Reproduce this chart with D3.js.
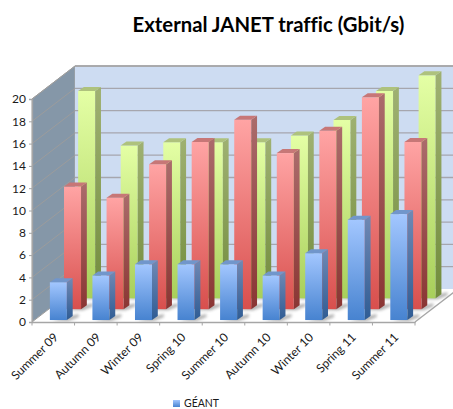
<!DOCTYPE html>
<html>
<head>
<meta charset="utf-8">
<title>External JANET traffic</title>
<script src="https://cdn.jsdelivr.net/npm/d3@7"></script>
<style>
html,body{margin:0;padding:0;background:#fff;overflow:hidden;}
svg{display:block;font-family:Lato,"Open Sans",sans-serif;font-variant-ligatures:none;}
</style>
</head>
<body>
<svg id="chart" width="453" height="409"></svg>
<script>
var categories = ["Summer 09","Autumn 09","Winter 09","Spring 10","Summer 10","Autumn 10","Winter 10","Spring 11","Summer 11"];
var seriesNames = ["GÉANT","Series 2","Series 3"];
var geantValues = [3.4,4,5,5,5,4,6,9,9.5];
var redValues = [11,10,13,15,17,14,16,19,15];
var greenValues = [18.6,13.7,14,14,14,14.6,16,18.6,20];
var yTicks = [0,2,4,6,8,10,12,14,16,18,20];
var legendNames = ["GÉANT"];

var seriesValues = [geantValues,redValues,greenValues];
var seriesColors = [
	{id:"blue",top:"#a3c7ff",bottom:"#4783d0",sideTop:"#7089b4",sideBottom:"#2f5c94",cap:"#7196cb"},
	{id:"red",top:"#ffa4a4",bottom:"#d84f4d",sideTop:"#ab6c6c",sideBottom:"#8a3533",cap:"#c77777"},
	{id:"green",top:"#e4ffa5",bottom:"#a8cf5b",sideTop:"#9fb172",sideBottom:"#728c3c",cap:"#aec27d"}
];

var frontLeft = 32, frontRight = 415, baseY = 322, topY = 99;
var wallDx = 43, wallDy = -33;

var svg = d3.select("#chart");
var x = d3.scaleBand().domain(categories).range([frontLeft,frontRight]).paddingInner(0.6).paddingOuter(0.3).align(0.6);
var y = d3.scaleLinear().domain([0,20]).range([baseY,topY]);
var depth = d3.scaleBand().domain(seriesNames).range([0,1]).paddingInner(0.56).paddingOuter(0.3).align(0.3);

function pts(list)
{
	return list.map(function(p){return p[0]+","+p[1];}).join(" ");
}

function addGradient(defs,id,c1,c2)
{
	var g = defs.append("linearGradient").attr("id",id).attr("x1",0).attr("y1",0).attr("x2",0).attr("y2",1);
	g.append("stop").attr("offset","0%").attr("stop-color",c1);
	g.append("stop").attr("offset","100%").attr("stop-color",c2);
}

var defs = svg.append("defs");
seriesColors.forEach(function(c)
{
	addGradient(defs,c.id+"Front",c.top,c.bottom);
	addGradient(defs,c.id+"Side",c.sideTop,c.sideBottom);
});
defs.append("filter").attr("id","soft").attr("x","-40%").attr("y","-40%").attr("width","180%").attr("height","180%")
	.append("feGaussianBlur").attr("stdDeviation",1.6);

// title
svg.append("text").attr("x",268.5).attr("y",32).attr("text-anchor","middle")
	.attr("font-size",20.3).attr("font-weight",700).attr("fill","#000").text("External JANET traffic (Gbit/s)");

// walls and floor
svg.append("polygon").attr("points",pts([[frontLeft,topY],[frontLeft+wallDx,topY+wallDy],[frontLeft+wallDx,baseY+wallDy],[frontLeft,baseY]]))
	.attr("fill","#8597a8").attr("stroke","#a6a6a6").attr("stroke-width",1);
svg.append("polygon").attr("points",pts([[frontLeft+wallDx,topY+wallDy],[frontRight+wallDx,topY+wallDy],[frontRight+wallDx,baseY+wallDy],[frontLeft+wallDx,baseY+wallDy]]))
	.attr("fill","#cddcf2");
svg.append("polygon").attr("points",pts([[frontLeft,baseY],[frontRight,baseY],[frontRight+wallDx,baseY+wallDy],[frontLeft+wallDx,baseY+wallDy]]))
	.attr("fill","#fff");

// gridlines on both walls
yTicks.forEach(function(t)
{
	var gy = y(t);
	svg.append("line").attr("x1",frontLeft).attr("y1",gy).attr("x2",frontLeft+wallDx).attr("y2",gy+wallDy)
		.attr("stroke","#9c9c9c").attr("stroke-width",1);
	if(t>0)
	{
		svg.append("line").attr("x1",frontLeft+wallDx).attr("y1",gy+wallDy).attr("x2",frontRight+wallDx).attr("y2",gy+wallDy)
			.attr("stroke","#a6a6ae").attr("stroke-width",1.3);
	}
});
svg.append("line").attr("x1",frontLeft+wallDx).attr("y1",topY+wallDy).attr("x2",frontRight+wallDx).attr("y2",topY+wallDy)
	.attr("stroke","#a6a6a6").attr("stroke-width",1.3);
svg.append("line").attr("x1",frontRight).attr("y1",baseY).attr("x2",frontRight+wallDx).attr("y2",baseY+wallDy)
	.attr("stroke","#a6a6a6").attr("stroke-width",1.3);

// bars, back row first
var sideDx = 5.8, sideDy = -4;
for(var s=seriesNames.length-1;s>=0;s--)
{
	var c = seriesColors[s];
	var d = depth(seriesNames[s]);
	var offX = d*wallDx, offY = d*wallDy;
	var row = svg.append("g").attr("class","row-"+c.id);
	var items = seriesValues[s].map(function(v,i){return {cat:categories[i],value:v};});

	row.selectAll("polygon.shadow").data(items).enter().append("polygon").attr("class","shadow")
		.attr("points",function(b)
		{
			var x0 = x(b.cat)+offX, w = x.bandwidth(), by = baseY+offY;
			return pts([[x0+2,by+1],[x0+w+2,by+1],[x0+w+sideDx+6,by+sideDy+1],[x0+w+sideDx+6,by+sideDy-2],[x0+w,by-3]]);
		})
		.attr("fill","#8c8c8c").attr("opacity",0.7).attr("filter","url(#soft)");

	var bars = row.selectAll("g.bar").data(items).enter().append("g").attr("class","bar");
	bars.append("rect")
		.attr("x",function(b){return x(b.cat)+offX;})
		.attr("y",function(b){return y(b.value)+offY;})
		.attr("width",x.bandwidth())
		.attr("height",function(b){return baseY-y(b.value);})
		.attr("fill","url(#"+c.id+"Front)");
	bars.append("polygon")
		.attr("points",function(b)
		{
			var x1 = x(b.cat)+offX+x.bandwidth(), ty = y(b.value)+offY, by = baseY+offY;
			return pts([[x1,ty],[x1+sideDx,ty+sideDy],[x1+sideDx,by+sideDy],[x1,by]]);
		})
		.attr("fill","url(#"+c.id+"Side)");
	bars.append("polygon")
		.attr("points",function(b)
		{
			var x0 = x(b.cat)+offX, x1 = x0+x.bandwidth(), ty = y(b.value)+offY;
			return pts([[x0,ty],[x1,ty],[x1+sideDx,ty+sideDy],[x0+sideDx,ty+sideDy]]);
		})
		.attr("fill",c.cap);
}

// axes
var yAxis = d3.axisLeft(y).tickValues(yTicks).tickSize(3).tickPadding(3).tickFormat(d3.format("d"));
var yG = svg.append("g").attr("transform","translate("+frontLeft+",0)").call(yAxis);
yG.select(".domain").attr("stroke","#a6a6a6").attr("stroke-width",1.3);
yG.selectAll("line").attr("stroke","#a6a6a6");
yG.selectAll("text").attr("font-size",12).attr("font-family","Lato").attr("fill","#1a1a1a");

var xAxis = d3.axisBottom(x).tickSize(0).tickPadding(0);
var xG = svg.append("g").attr("transform","translate(0,"+baseY+")").call(xAxis);
xG.select(".domain").attr("stroke","#a6a6a6").attr("stroke-width",1.6);
xG.selectAll("text")
	.attr("font-size",12).attr("font-family","Lato").attr("fill","#1a1a1a")
	.attr("text-anchor","end").attr("dy",null)
	.attr("transform","translate(3,16) rotate(-45)");
d3.range(categories.length+1).forEach(function(i)
{
	var tx = frontLeft+i*x.step();
	xG.append("line").attr("x1",tx).attr("x2",tx).attr("y1",0).attr("y2",3.5).attr("stroke","#a6a6a6").attr("stroke-width",1);
});

// legend, the picture is cut just below the first entry
var lg = svg.append("g").attr("transform","translate(173,400)");
lg.append("rect").attr("width",7).attr("height",7).attr("fill","url(#blueFront)");
lg.selectAll("text").data(legendNames).enter().append("text").attr("x",11).attr("y",7)
	.attr("font-size",10.5).attr("fill","#1a1a1a").text(function(n){return n;});
</script>
</body>
</html>
